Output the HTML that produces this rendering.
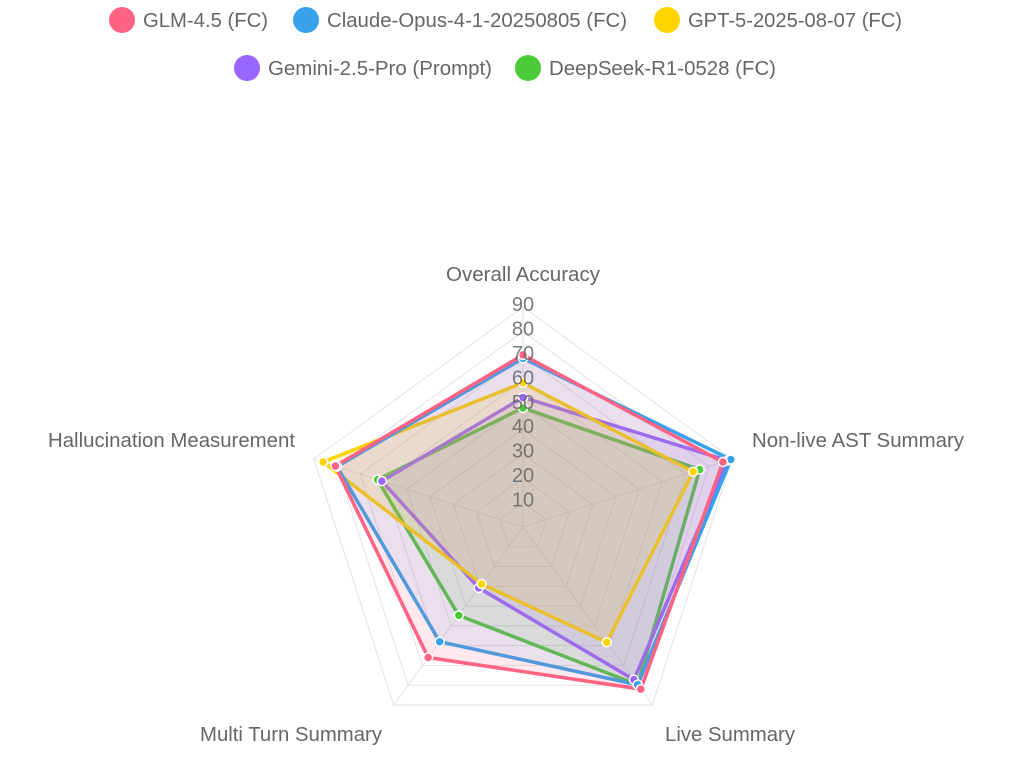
<!DOCTYPE html>
<html><head><meta charset="utf-8"><style>
body{margin:0;background:#fff;font-family:"Liberation Sans",sans-serif;}
</style></head><body>
<svg id="s" width="1024" height="779" xmlns="http://www.w3.org/2000/svg" font-family="Liberation Sans, sans-serif"></svg>
<script>
const s=document.getElementById('s');let h='';
const cx=523,cy=527,R=220,max=90;
const ang=[-90,-18,54,126,198].map(a=>a*Math.PI/180);
const P=(i,v)=>[cx+Math.cos(ang[i])*R*v/max,cy+Math.sin(ang[i])*R*v/max];
const C=['#ff6384','#36a2eb','#ffd400','#9966ff','#4ccb38'];
const leg=[[122,20,C[0],'GLM-4.5 (FC)',125],[306,20,C[1],'Claude-Opus-4-1-20250805 (FC)',300],[667,20,C[2],'GPT-5-2025-08-07 (FC)',214],[247,68,C[3],'Gemini-2.5-Pro (Prompt)',224],[528,68,C[4],'DeepSeek-R1-0528 (FC)',227]];
leg.forEach(l=>{h+=`<circle cx="${l[0]}" cy="${l[1]}" r="13" fill="${l[2]}"/><text x="${l[0]+21}" y="${l[1]+7}" font-size="20" fill="#666" textLength="${l[4]}" lengthAdjust="spacingAndGlyphs">${l[3]}</text>`});
for(let k=1;k<=9;k++){h+=`<polygon points="${[0,1,2,3,4].map(i=>P(i,k*10).join(',')).join(' ')}" fill="none" stroke="#e2e2e2" stroke-width="1"/>`}
for(let i=0;i<5;i++){const p=P(i,90);h+=`<line x1="${cx}" y1="${cy}" x2="${p[0]}" y2="${p[1]}" stroke="#e2e2e2"/>`}
const data=[
[C[0],'rgba(255,99,132,0.14)',[70.4,86,82,66,80.7]],
[C[1],'rgba(54,162,235,0.12)',[69,89.4,79.8,58,80]],
[C[2],'rgba(255,212,0,0.16)',[59,73.2,58.3,28.8,86]],
[C[3],'rgba(153,102,255,0.13)',[53,88,77.2,30.8,60.7]],
[C[4],'rgba(76,203,56,0.12)',[48.7,76,79.8,44.7,62.6]]].reverse();
data.forEach(d=>{const pts=d[2].map((v,i)=>P(i,v));
h+=`<polygon points="${pts.map(p=>p.join(',')).join(' ')}" fill="${d[1]}" stroke="${d[0]}" stroke-width="3.5" stroke-linejoin="miter"/>`;});
data.forEach(d=>{d[2].forEach((v,i)=>{const p=P(i,v);h+=`<circle cx="${p[0]}" cy="${p[1]}" r="4.5" fill="${d[0]}" stroke="#fff" stroke-width="1.5"/>`})});
for(let k=1;k<=9;k++){h+=`<text x="${cx}" y="${cy-k*R/9+4}" font-size="20" fill="#666" text-anchor="middle" opacity="0.85">${k*10}</text>`}
const lab=(x,y,a,t,w)=>h+=`<text x="${x}" y="${y}" font-size="20" fill="#666" text-anchor="${a}" textLength="${w}" lengthAdjust="spacingAndGlyphs">${t}</text>`;
lab(523,281,'middle','Overall Accuracy',154);
lab(752,447,'start','Non-live AST Summary',212);
lab(730,741,'middle','Live Summary',130);
lab(291,741,'middle','Multi Turn Summary',182);
lab(295,447,'end','Hallucination Measurement',247);
s.innerHTML=h;
</script>
</body></html>
